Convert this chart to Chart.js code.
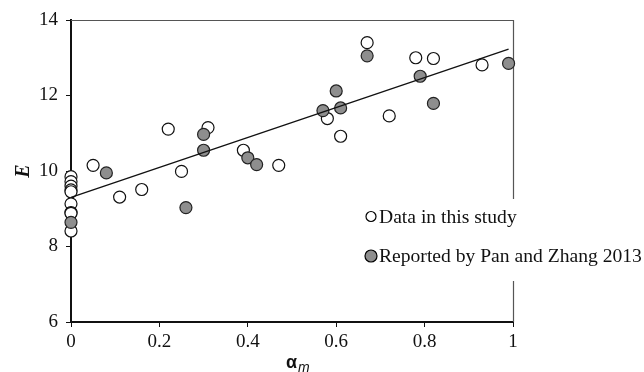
<!DOCTYPE html>
<html>
<head>
<meta charset="utf-8">
<script src="https://cdn.jsdelivr.net/npm/chart.js@4"></script>
<style>
html,body{margin:0;padding:0;background:#fff;}
#wrap{width:644px;height:372px;}
</style>
</head>
<body>
<div id="wrap"><canvas id="c" width="644" height="372"></canvas></div>
<script>
const xTickLabels = ['0','0.2','0.4','0.6','0.8','1'];
const yTickLabels = ['6','8','10','12','14'];
const xTitleMain = 'α';
const xTitleSub = 'm';
const yTitle = 'E';
const studyLabel = 'Data in this study';
const panLabel = 'Reported by Pan and Zhang 2013';

const studyX = [0,0,0,0,0,0,0,0,0,0.05,0.11,0.16,0.22,0.25,0.31,0.39,0.47,0.58,0.61,0.67,0.72,0.78,0.82,0.93];
const studyY = [9.85,9.72,9.6,9.5,9.45,9.13,8.9,8.88,8.41,10.15,9.31,9.51,11.11,9.99,11.15,10.55,10.15,11.39,10.92,13.40,11.46,13.0,12.98,12.81];
const panX = [0,0.08,0.26,0.30,0.30,0.40,0.42,0.57,0.60,0.61,0.67,0.79,0.82,0.99];
const panY = [8.64,9.95,9.03,10.97,10.55,10.35,10.17,11.6,12.12,11.67,13.05,12.51,11.79,12.85];
const fitX = [0,0.99];
const fitY = [9.3,13.23];

const toPts = (xs, ys) => xs.map((x, i) => ({x: x, y: ys[i]}));
const tickLabel = (labels) => (v) => {
  const f = labels.find(l => Math.abs(parseFloat(l) - v) < 1e-6);
  return f === undefined ? '' : f;
};

const frame = {
  id: 'frame',
  beforeDatasetsDraw(chart) {
    const a = chart.chartArea, ctx = chart.ctx;
    ctx.save();
    ctx.strokeStyle = '#555';
    ctx.lineWidth = 1.2;
    ctx.beginPath();
    ctx.moveTo(a.left, a.top + 0.5);
    ctx.lineTo(a.right + 0.5, a.top + 0.5);
    ctx.lineTo(a.right + 0.5, a.bottom);
    ctx.stroke();
    ctx.restore();
  },
  afterDatasetsDraw(chart) {
    const ctx = chart.ctx;
    ctx.save();
    // legend
    ctx.fillStyle = '#fff';
    ctx.fillRect(360, 199, 284, 82);
    const ds = chart.data.datasets;
    const items = [ds[1], ds[2]];
    const ys = [216.5, 256];
    const rs = [5, 6];
    items.forEach((d, i) => {
      ctx.beginPath();
      ctx.arc(371, ys[i], rs[i], 0, Math.PI * 2);
      ctx.fillStyle = d.backgroundColor;
      ctx.fill();
      ctx.lineWidth = 1.2;
      ctx.strokeStyle = '#000';
      ctx.stroke();
      ctx.fillStyle = '#111';
      ctx.font = '19.6px "Liberation Serif"';
      ctx.textBaseline = 'middle';
      ctx.textAlign = 'left';
      ctx.fillText(d.label, 379, ys[i] + 1);
    });
    // x title
    ctx.fillStyle = '#111';
    ctx.textBaseline = 'alphabetic';
    ctx.font = 'bold 18px "Liberation Sans"';
    ctx.fillText(xTitleMain, 286, 368);
    ctx.font = 'italic 14px "Liberation Sans"';
    ctx.fillText(xTitleSub, 298, 372);
    ctx.restore();
  }
};

new Chart(document.getElementById('c'), {
  type: 'scatter',
  data: {
    datasets: [
      {
        type: 'line',
        label: 'fit',
        data: toPts(fitX, fitY),
        borderColor: '#111',
        borderWidth: 1.3,
        pointRadius: 0,
        fill: false,
        order: 0,
        clip: false
      },
      {
        label: studyLabel,
        data: toPts(studyX, studyY),
        backgroundColor: '#fff',
        borderColor: '#111',
        borderWidth: 1.2,
        pointRadius: 6,
        order: 2,
        clip: false
      },
      {
        label: panLabel,
        data: toPts(panX, panY),
        backgroundColor: '#8e8e8e',
        borderColor: '#222',
        borderWidth: 1.2,
        pointRadius: 6,
        order: 1,
        clip: false
      }
    ]
  },
  options: {
    responsive: false,
    animation: false,
    events: [],
    layout: {padding: {left: 0, right: 131, top: 20, bottom: 0}},
    plugins: {legend: {display: false}, tooltip: {enabled: false}},
    scales: {
      x: {
        type: 'linear',
        min: 0, max: 1,
        afterFit(s) { s.height = 50; },
        border: {display: true, color: '#111', width: 2},
        grid: {display: true, drawOnChartArea: false, drawTicks: true, tickLength: 5, color: '#111'},
        ticks: {
          stepSize: 0.2,
          callback: tickLabel(xTickLabels),
          color: '#111',
          font: {family: 'Liberation Serif', size: 19},
          padding: 4,
          maxRotation: 0
        }
      },
      y: {
        type: 'linear',
        min: 6, max: 14,
        afterFit(s) { s.width = 71; },
        border: {display: true, color: '#111', width: 2},
        grid: {display: true, drawOnChartArea: false, drawTicks: true, tickLength: 5, color: '#111'},
        ticks: {
          stepSize: 2,
          callback: tickLabel(yTickLabels),
          color: '#111',
          font: {family: 'Liberation Serif', size: 19},
          padding: 8
        },
        title: {
          display: true,
          text: yTitle,
          color: '#111',
          font: {family: 'Liberation Serif', size: 20, style: 'italic', weight: 'bold'},
          padding: {top: 12, bottom: 0}
        }
      }
    }
  },
  plugins: [frame]
});
</script>
</body>
</html>
